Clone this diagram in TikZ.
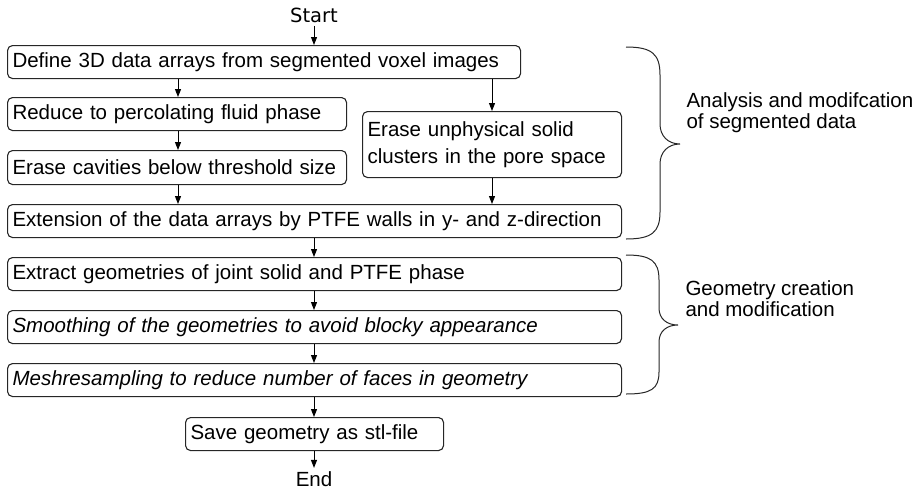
\documentclass[tikz,border=0pt]{standalone}
\usepackage{fontspec}
\setmainfont{Liberation Sans}
\newfontfamily\startfont{DejaVu Sans}
\usetikzlibrary{arrows.meta}
\begin{document}
\begin{tikzpicture}[x=1pt,y=-1pt,
  every node/.style={font=\fontsize{20.5}{22}\selectfont},
  stepbox/.style={draw=black!85, line width=1.1pt, rounded corners=5pt, anchor=north west,
    inner xsep=5pt, inner ysep=0pt, align=left},
  flow/.style={draw=black, line width=1pt, -{Triangle[length=8pt,width=6pt]}},
  bracepath/.style={draw=black!85, line width=1pt},
  grouplabel/.style={anchor=west, align=left, font=\fontsize{20.5}{21}\selectfont}]
\useasboundingbox (0,0) rectangle (921,493);

\node[font=\startfont\fontsize{19.5}{22}\selectfont] (start) at (314,15) {Start};

\node[stepbox, minimum width=513pt, minimum height=33pt, text width=503pt] (b1) at (7,45) {Define 3D data arrays from segmented voxel images};
\node[stepbox, minimum width=339pt, minimum height=33pt, text width=329pt] (b2) at (7,97) {Reduce to percolating fluid phase};
\node[stepbox, minimum width=339pt, minimum height=34pt, text width=329pt] (b3) at (7,150) {Erase cavities below threshold size};
\node[stepbox, minimum width=259pt, minimum height=66pt, text width=249pt, font=\fontsize{20.5}{26.5}\selectfont] (b4) at (362,111) {Erase unphysical solid\\clusters in the pore space};
\node[stepbox, minimum width=614pt, minimum height=33pt, text width=604pt] (b5) at (7,204) {Extension of the data arrays by PTFE walls in y- and z-direction};
\node[stepbox, minimum width=614pt, minimum height=33pt, text width=604pt] (b6) at (7,257) {Extract geometries of joint solid and PTFE phase};
\node[stepbox, minimum width=614pt, minimum height=33pt, text width=604pt] (b7) at (7,310) {\itshape Smoothing of the geometries to avoid blocky appearance};
\node[stepbox, minimum width=614pt, minimum height=33pt, text width=604pt] (b8) at (7,363) {\itshape Meshresampling to reduce number of faces in geometry};
\node[stepbox, minimum width=258pt, minimum height=33pt, text width=248pt] (b9) at (185,417) {Save geometry as stl-file};

\node (end) at (314,479) {End};

\coordinate (s1) at (178,0);
\coordinate (s2) at (492,0);
\coordinate (s3) at (314,0);

\draw[flow] (start.south) -- (start.south |- b1.north);
\draw[flow] (s1 |- b1.south) -- (s1 |- b2.north);
\draw[flow] (s2 |- b1.south) -- (s2 |- b4.north);
\draw[flow] (s1 |- b2.south) -- (s1 |- b3.north);
\draw[flow] (s1 |- b3.south) -- (s1 |- b5.north);
\draw[flow] (s2 |- b4.south) -- (s2 |- b5.north);
\draw[flow] (s3 |- b5.south) -- (s3 |- b6.north);
\draw[flow] (s3 |- b6.south) -- (s3 |- b7.north);
\draw[flow] (s3 |- b7.south) -- (s3 |- b8.north);
\draw[flow] (s3 |- b8.south) -- (s3 |- b9.north);
\draw[flow] (s3 |- b9.south) -- (end.north);

% braces
\draw[bracepath] (626,47) .. controls (652,47) and (660,54) .. (660,75) -- (660,124)
  .. controls (660,136) and (668,144) .. (680,144)
  .. controls (668,144) and (660,152) .. (660,164) -- (660,212)
  .. controls (660,232) and (652,239) .. (626,239);
\draw[bracepath] (626,255) .. controls (651,255) and (659,261) .. (659,280) -- (659,308)
  .. controls (659,319) and (667,325) .. (678,325)
  .. controls (667,325) and (659,331) .. (659,342) -- (659,372)
  .. controls (659,389) and (651,394) .. (626,394);

\node[grouplabel] (g1) at (683,113) {Analysis and modifcation\\of segmented data};
\node[grouplabel] (g2) at (682,299) {Geometry creation\\and modification};
\end{tikzpicture}
\end{document}
